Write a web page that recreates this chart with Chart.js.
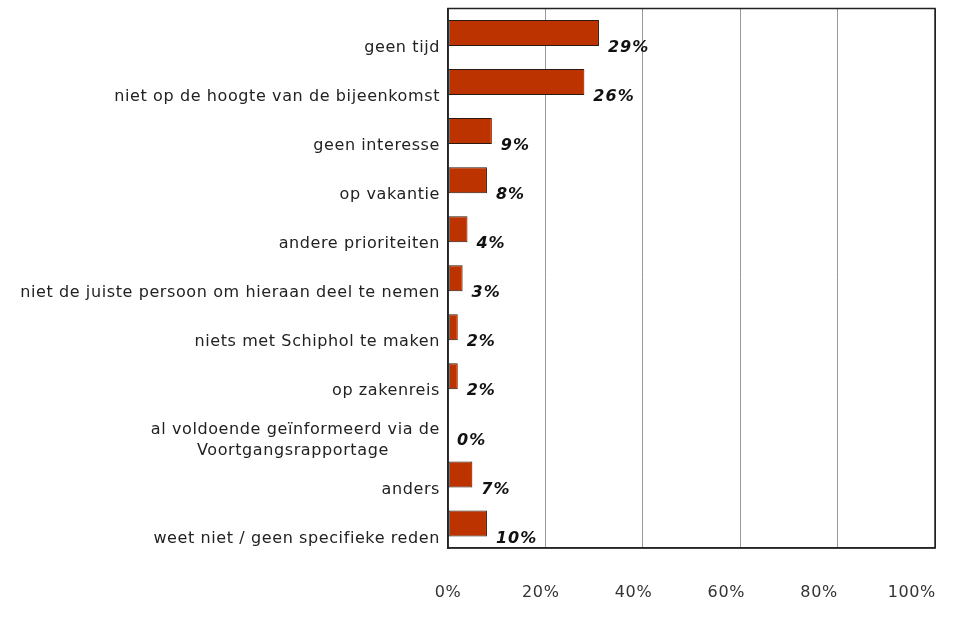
<!DOCTYPE html>
<html lang="nl">
<head>
    <meta charset="UTF-8">
    <title>Redenen om niet deel te nemen</title>
    <style>
        html, body {
            margin: 0;
            padding: 0;
            background: #fff;
        }
        .container {
            width: 968px;
            height: 630px;
        }
    </style>
</head>
<body>
    <div class="container">
        <canvas id="bar-graph"></canvas>
    </div>
    <script src="https://cdn.jsdelivr.net/npm/chart.js"></script>

    <script>
        // DATA

        const categories = [
            "geen tijd",
            "niet op de hoogte van de bijeenkomst",
            "geen interesse",
            "op vakantie",
            "andere prioriteiten",
            "niet de juiste persoon om hieraan deel te nemen",
            "niets met Schiphol te maken",
            "op zakenreis",
            ["al voldoende geïnformeerd via de", "Voortgangsrapportage" + "\u00a0".repeat(9)],
            "anders",
            "weet niet / geen specifieke reden"
        ]

        // bar lengths as drawn (%)
        const barValues = [31, 28, 9, 8, 4, 3, 2, 2, 0, 5, 8]

        // percentages printed next to the bars
        const printedValues = [29, 26, 9, 8, 4, 3, 2, 2, 0, 7, 10]

        const xTicks = [0, 20, 40, 60, 80, 100]
    </script>

    <script>
        const FONT = "'DejaVu Sans', Verdana, sans-serif";

        // spaced-out text like the original
        const spacingPlugin = {
            id: 'spacing',
            beforeDraw(chart) {
                chart.ctx.letterSpacing = '0.6px';
            }
        };

        // frame round the plot area
        const framePlugin = {
            id: 'frame',
            afterDatasetsDraw(chart) {
                const { ctx, chartArea } = chart;
                ctx.save();
                ctx.strokeStyle = '#222';
                ctx.lineWidth = 1.5;
                ctx.strokeRect(chartArea.left, chartArea.top, chartArea.right - chartArea.left, chartArea.bottom - chartArea.top);
                ctx.restore();
            }
        };

        // value labels right of each bar
        const valueLabels = {
            id: 'valueLabels',
            afterDatasetsDraw(chart) {
                const ctx = chart.ctx;
                const meta = chart.getDatasetMeta(0);
                ctx.save();
                ctx.font = "italic bold 16px " + FONT;
                ctx.letterSpacing = '1px';
                ctx.fillStyle = '#111';
                ctx.textAlign = 'left';
                ctx.textBaseline = 'middle';
                meta.data.forEach((bar, i) => {
                    ctx.fillText(printedValues[i] + '%', bar.x + 9, bar.y + 15);
                });
                ctx.restore();
            }
        };

        const config = {
            type: 'bar',
            data: {
                labels: categories,
                datasets: [{
                    data: barValues,
                    backgroundColor: '#BD3300',
                    borderColor: '#2a1a12',
                    borderWidth: 1,
                    borderSkipped: false,
                    barPercentage: 0.53,
                    categoryPercentage: 1,
                    xAxisID: 'x',
                    yAxisID: 'y'
                }]
            },
            options: {
                indexAxis: 'y',
                responsive: true,
                maintainAspectRatio: false,
                animation: false,
                layout: {
                    padding: { top: 8.5, right: 33, left: 0, bottom: 0 }
                },
                plugins: {
                    legend: { display: false },
                    tooltip: { enabled: false }
                },
                scales: {
                    x: {
                        type: 'linear',
                        position: 'bottom',
                        min: 0,
                        max: 100,
                        afterBuildTicks: (scale) => {
                            scale.ticks = xTicks.map(v => ({ value: v }));
                        },
                        ticks: { display: false },
                        grid: {
                            color: (c) => c.tick && c.tick.value === 100 ? '#222' : '#999',
                            lineWidth: 1,
                            drawTicks: false
                        },
                        border: { color: '#333', width: 1.5 },
                        afterFit: (scale) => {
                            scale.height = 0;
                            scale.paddingLeft = scale.paddingRight = 0;
                        }
                    },
                    // tick labels sit a bit tighter than the gridlines in the original
                    xLabels: {
                        type: 'linear',
                        position: 'bottom',
                        min: 0,
                        max: 105,
                        afterBuildTicks: (scale) => {
                            scale.ticks = xTicks.map(v => ({ value: v }));
                        },
                        ticks: {
                            callback: (v) => v + '%',
                            padding: 35,
                            color: '#333',
                            maxRotation: 0,
                            autoSkip: false,
                            font: { family: FONT, size: 16 }
                        },
                        grid: { display: false, drawTicks: false },
                        border: { display: false },
                        afterFit: (scale) => {
                            scale.height = 82;
                            scale.paddingLeft = scale.paddingRight = 0;
                        }
                    },
                    y: {
                        type: 'category',
                        grid: { display: false, drawTicks: false },
                        border: { color: '#333', width: 1.5 },
                        ticks: {
                            color: '#222',
                            padding: 8,
                            labelOffset: 15,
                            autoSkip: false,
                            font: { family: FONT, size: 16, lineHeight: 1.3 }
                        },
                        afterFit: (scale) => {
                            scale.width = 448;
                            scale.paddingTop = scale.paddingBottom = 0;
                        }
                    }
                }
            },
            plugins: [spacingPlugin, framePlugin, valueLabels]
        };

        // renders chart
        new Chart(document.getElementById('bar-graph'), config);
    </script>
</body>
</html>
